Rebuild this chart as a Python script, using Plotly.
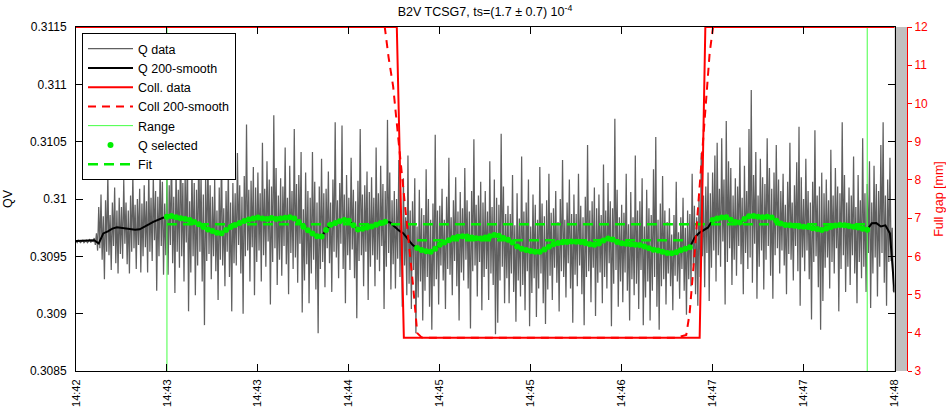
import plotly.graph_objects as go

# ---------------------------------------------------------------- data
# time axis: seconds after 14:42:00
tick_seconds = [0, 40, 80, 120, 160, 200, 240, 280, 320, 360]
tick_labels = ["14:42", "14:43", "14:43", "14:44", "14:45",
               "14:45", "14:46", "14:47", "14:47", "14:48"]

qv_tickvals = [0.3085, 0.309, 0.3095, 0.31, 0.3105, 0.311, 0.3115]
qv_ticktext = ["0.3085", "0.309", "0.3095", "0.31", "0.3105", "0.311", "0.3115"]

# raw tune measurement, one sample every 0.5 s (t = 0 .. 360 s), 10 s per row
q_data = [
    0.30963, 0.30962, 0.30964, 0.30963, 0.30962, 0.30963, 0.30964, 0.30962, 0.30963, 0.30964,
    0.30962, 0.30963, 0.30965, 0.30962, 0.30964, 0.30963, 0.30966, 0.30960, 0.30970, 0.30955,
    0.30993, 0.30957, 0.31004, 0.30947, 0.30985, 0.30930, 0.30999, 0.30954, 0.31022, 0.30951,
    0.30986, 0.30938, 0.30997, 0.30959, 0.31010, 0.30944, 0.30990, 0.30935, 0.31001, 0.30952,
    0.30993, 0.30948, 0.31017, 0.30961, 0.30997, 0.30943, 0.30990, 0.30935, 0.31003, 0.30954,
    0.31022, 0.30957, 0.30995, 0.30939, 0.31000, 0.30960, 0.31009, 0.30936, 0.30996, 0.30950,
    0.31012, 0.30958, 0.30998, 0.30936, 0.31025, 0.30954, 0.31001, 0.30946, 0.31020, 0.30964,
    0.31007, 0.30920, 0.31002, 0.30950, 0.31028, 0.30959, 0.31015, 0.30934, 0.30996, 0.30951,
    0.31019, 0.30934, 0.31012, 0.30960, 0.31046, 0.30944, 0.31002, 0.30918, 0.31030, 0.30954,
    0.31008, 0.30940, 0.31062, 0.30950, 0.31014, 0.30928, 0.31022, 0.30962, 0.31042, 0.30902,
    0.30998, 0.30936, 0.31030, 0.30950, 0.31014, 0.30916, 0.31008, 0.30942, 0.31048, 0.30954,
    0.31022, 0.30928, 0.31004, 0.30890, 0.31018, 0.30946, 0.31042, 0.30952, 0.31012, 0.30930,
    0.31002, 0.30950, 0.31017, 0.30937, 0.30990, 0.30912, 0.31010, 0.30947, 0.31044, 0.30942,
    0.30992, 0.30924, 0.31007, 0.30954, 0.31027, 0.30932, 0.30997, 0.30902, 0.31014, 0.30944,
    0.31005, 0.30942, 0.31040, 0.30960, 0.31012, 0.30935, 0.31002, 0.30900, 0.31020, 0.30950,
    0.31065, 0.30955, 0.31008, 0.30928, 0.31016, 0.30958, 0.31028, 0.30916, 0.31010, 0.30945,
    0.31023, 0.30955, 0.31005, 0.30928, 0.31049, 0.30951, 0.31009, 0.30941, 0.31033, 0.30963,
    0.31017, 0.30908, 0.31011, 0.30945, 0.31073, 0.30957, 0.31027, 0.30925, 0.31003, 0.30947,
    0.31018, 0.30933, 0.31011, 0.30959, 0.31045, 0.30943, 0.31001, 0.30917, 0.31029, 0.30953,
    0.31007, 0.30939, 0.31061, 0.30949, 0.31013, 0.30927, 0.31021, 0.30961, 0.31041, 0.30901,
    0.30991, 0.30929, 0.31023, 0.30943, 0.31007, 0.30909, 0.31001, 0.30935, 0.31041, 0.30947,
    0.31015, 0.30921, 0.30997, 0.30883, 0.31011, 0.30939, 0.31035, 0.30945, 0.31005, 0.30923,
    0.31009, 0.30957, 0.31024, 0.30944, 0.30997, 0.30919, 0.31017, 0.30954, 0.31067, 0.30949,
    0.30999, 0.30931, 0.31014, 0.30961, 0.31064, 0.30939, 0.31004, 0.30909, 0.31021, 0.30951,
    0.31001, 0.30938, 0.31036, 0.30956, 0.31008, 0.30931, 0.30998, 0.30896, 0.31016, 0.30946,
    0.31061, 0.30951, 0.31004, 0.30924, 0.31012, 0.30954, 0.31024, 0.30912, 0.31006, 0.30941,
    0.31019, 0.30951, 0.31001, 0.30924, 0.31045, 0.30947, 0.31005, 0.30937, 0.31029, 0.30959,
    0.31013, 0.30904, 0.31007, 0.30941, 0.31069, 0.30953, 0.31023, 0.30921, 0.30999, 0.30943,
    0.31007, 0.30922, 0.31000, 0.30948, 0.31034, 0.30932, 0.30990, 0.30906, 0.31018, 0.30942,
    0.30984, 0.30916, 0.31038, 0.30926, 0.30990, 0.30904, 0.30998, 0.30938, 0.31018, 0.30883,
    0.30976, 0.30914, 0.31008, 0.30928, 0.30992, 0.30894, 0.30986, 0.30920, 0.31026, 0.30932,
    0.31000, 0.30906, 0.30982, 0.30886, 0.30996, 0.30924, 0.31056, 0.30930, 0.30990, 0.30908,
    0.30994, 0.30942, 0.31009, 0.30929, 0.30982, 0.30904, 0.31002, 0.30939, 0.31036, 0.30934,
    0.30984, 0.30916, 0.30999, 0.30946, 0.31019, 0.30924, 0.30989, 0.30894, 0.31006, 0.30936,
    0.30992, 0.30929, 0.31027, 0.30947, 0.30999, 0.30922, 0.30989, 0.30887, 0.31007, 0.30937,
    0.31052, 0.30942, 0.30995, 0.30915, 0.31003, 0.30945, 0.31015, 0.30903, 0.30997, 0.30932,
    0.31007, 0.30939, 0.30989, 0.30912, 0.31033, 0.30935, 0.30993, 0.30925, 0.31017, 0.30882,
    0.31001, 0.30892, 0.30995, 0.30929, 0.31057, 0.30941, 0.31011, 0.30909, 0.30987, 0.30931,
    0.30994, 0.30909, 0.30987, 0.30935, 0.31021, 0.30919, 0.30977, 0.30893, 0.31005, 0.30929,
    0.30983, 0.30915, 0.31037, 0.30925, 0.30989, 0.30903, 0.30997, 0.30937, 0.31017, 0.30889,
    0.30976, 0.30918, 0.31004, 0.30931, 0.30995, 0.30897, 0.30982, 0.30922, 0.31028, 0.30935,
    0.30996, 0.30909, 0.30985, 0.30891, 0.30999, 0.30921, 0.31022, 0.30933, 0.30988, 0.30912,
    0.30992, 0.30940, 0.31007, 0.30927, 0.30980, 0.30902, 0.31000, 0.30937, 0.31034, 0.30932,
    0.30982, 0.30914, 0.30997, 0.30944, 0.31017, 0.30922, 0.30987, 0.30892, 0.31004, 0.30934,
    0.30987, 0.30924, 0.31022, 0.30942, 0.30994, 0.30917, 0.30984, 0.30890, 0.31002, 0.30932,
    0.31047, 0.30937, 0.30990, 0.30910, 0.30998, 0.30940, 0.31010, 0.30898, 0.30992, 0.30927,
    0.31004, 0.30936, 0.30986, 0.30909, 0.31030, 0.30932, 0.30990, 0.30922, 0.31014, 0.30944,
    0.30998, 0.30889, 0.30992, 0.30926, 0.31070, 0.30938, 0.31008, 0.30906, 0.30984, 0.30928,
    0.30995, 0.30910, 0.30988, 0.30936, 0.31022, 0.30920, 0.30978, 0.30894, 0.31006, 0.30930,
    0.30984, 0.30916, 0.31038, 0.30926, 0.30990, 0.30904, 0.30998, 0.30938, 0.31018, 0.30890,
    0.30976, 0.30914, 0.31008, 0.30928, 0.30992, 0.30894, 0.30986, 0.30920, 0.31026, 0.30932,
    0.31054, 0.30906, 0.30982, 0.30886, 0.30996, 0.30924, 0.31020, 0.30930, 0.30990, 0.30908,
    0.30980, 0.30935, 0.30992, 0.30924, 0.30969, 0.30903, 0.30986, 0.30933, 0.31015, 0.30928,
    0.30971, 0.30913, 0.30984, 0.30939, 0.31001, 0.30920, 0.30975, 0.30899, 0.30990, 0.30930,
    0.30987, 0.30924, 0.31022, 0.30942, 0.30994, 0.30917, 0.30984, 0.30907, 0.31002, 0.30932,
    0.31040, 0.30950, 0.31003, 0.30923, 0.31011, 0.30953, 0.31023, 0.30911, 0.31005, 0.30940,
    0.31023, 0.30955, 0.31038, 0.30928, 0.31049, 0.30951, 0.31009, 0.30941, 0.31053, 0.30963,
    0.31017, 0.30908, 0.31068, 0.30945, 0.31033, 0.30957, 0.31027, 0.30925, 0.31003, 0.30947,
    0.31018, 0.30933, 0.31011, 0.30959, 0.31045, 0.30943, 0.31001, 0.30917, 0.31029, 0.30953,
    0.31007, 0.30939, 0.31061, 0.30949, 0.31095, 0.30927, 0.31021, 0.30961, 0.31041, 0.30913,
    0.31003, 0.30941, 0.31035, 0.30955, 0.31019, 0.30921, 0.31013, 0.30947, 0.31053, 0.30959,
    0.31027, 0.30933, 0.31009, 0.30913, 0.31023, 0.30951, 0.31047, 0.30957, 0.31017, 0.30935,
    0.31007, 0.30955, 0.31022, 0.30942, 0.30995, 0.30917, 0.31015, 0.30952, 0.31049, 0.30947,
    0.30997, 0.30929, 0.31012, 0.30959, 0.31032, 0.30937, 0.31063, 0.30907, 0.31019, 0.30949,
    0.31000, 0.30937, 0.31035, 0.30955, 0.31007, 0.30930, 0.30997, 0.30895, 0.31015, 0.30945,
    0.31060, 0.30950, 0.31003, 0.30923, 0.31011, 0.30886, 0.31023, 0.30911, 0.31005, 0.30940,
    0.31017, 0.30949, 0.30999, 0.30922, 0.31043, 0.30945, 0.31003, 0.30935, 0.31027, 0.30957,
    0.31011, 0.30902, 0.31005, 0.30939, 0.31067, 0.30951, 0.31021, 0.30919, 0.30997, 0.30941,
    0.31010, 0.30925, 0.31003, 0.30951, 0.31037, 0.30935, 0.30993, 0.30909, 0.31021, 0.30945,
    0.30999, 0.30931, 0.31053, 0.30941, 0.31005, 0.30919, 0.31013, 0.30953, 0.31033, 0.30905,
    0.30997, 0.30935, 0.31029, 0.30949, 0.31013, 0.30915, 0.31007, 0.30941, 0.31047, 0.30953,
    0.31067, 0.30927, 0.31003, 0.30907, 0.31017, 0.30945, 0.31036, 0.30946, 0.30975, 0.30920,
    0.30918,
]
q_time = [0.5 * i for i in range(len(q_data))]

# 200-sample running mean of the tune, one value every 2 s (t = 0 .. 360 s)
q_smooth = [
    0.309634, 0.309636, 0.309638, 0.309642, 0.309640, 0.309612, 0.309700, 0.309718, 0.309742, 0.309753,
    0.309748, 0.309744, 0.309738, 0.309732, 0.309736, 0.309760, 0.309778, 0.309800, 0.309820, 0.309834,
    0.309846, 0.309852, 0.309840, 0.309832, 0.309826, 0.309817, 0.309800, 0.309780, 0.309756, 0.309735,
    0.309722, 0.309706, 0.309702, 0.309730, 0.309756, 0.309774, 0.309790, 0.309808, 0.309822, 0.309830,
    0.309838, 0.309830, 0.309826, 0.309834, 0.309826, 0.309830, 0.309836, 0.309840, 0.309830, 0.309800,
    0.309758, 0.309728, 0.309700, 0.309676, 0.309672, 0.309730, 0.309776, 0.309790, 0.309806, 0.309817,
    0.309810, 0.309770, 0.309735, 0.309740, 0.309752, 0.309760, 0.309776, 0.309790, 0.309802, 0.309798,
    0.309760, 0.309726, 0.309700, 0.309650, 0.309600, 0.309572, 0.309556, 0.309544, 0.309540, 0.309566,
    0.309600, 0.309620, 0.309640, 0.309660, 0.309671, 0.309676, 0.309672, 0.309664, 0.309658, 0.309656,
    0.309664, 0.309676, 0.309686, 0.309680, 0.309660, 0.309644, 0.309620, 0.309586, 0.309566, 0.309556,
    0.309546, 0.309540, 0.309540, 0.309560, 0.309584, 0.309606, 0.309616, 0.309622, 0.309626, 0.309630,
    0.309628, 0.309626, 0.309616, 0.309606, 0.309600, 0.309612, 0.309638, 0.309656, 0.309646, 0.309626,
    0.309614, 0.309610, 0.309606, 0.309600, 0.309598, 0.309586, 0.309570, 0.309558, 0.309550, 0.309540,
    0.309530, 0.309526, 0.309536, 0.309554, 0.309566, 0.309580, 0.309660, 0.309703, 0.309730, 0.309752,
    0.309817, 0.309830, 0.309838, 0.309840, 0.309820, 0.309800, 0.309795, 0.309826, 0.309850, 0.309852,
    0.309846, 0.309840, 0.309846, 0.309838, 0.309810, 0.309786, 0.309773, 0.309770, 0.309766, 0.309760,
    0.309758, 0.309756, 0.309746, 0.309738, 0.309730, 0.309742, 0.309756, 0.309768, 0.309773, 0.309770,
    0.309764, 0.309758, 0.309752, 0.309740, 0.309732, 0.309788, 0.309790, 0.309760, 0.309770, 0.309700,
    0.309190,
]
q_smooth_time = list(range(0, 2 * len(q_smooth), 2))

# collimator full gap [mm]
coll_time = [0, 141.1, 144.2, 274.3, 276.8, 360]
coll_gap = [12, 12, 3.87, 3.87, 12, 12]

coll_smooth_time = [0, 135.8, 137.5, 139.5, 142.4, 145.4, 148.3, 150.1, 152, 156,
                    264, 268.4, 269.9, 272.1, 274.3, 276.5, 278.7, 280.2, 360]
coll_smooth_gap = [12, 12, 11.2, 10.44, 8.70, 6.95, 5.21, 3.99, 3.88, 3.87,
                   3.87, 3.94, 4.52, 6.09, 7.81, 9.57, 11.32, 12, 12]

# analysis window and the windows of smoothed tune used in the fit
range_time = [40, 348]
selected_windows = [(40, 136), (150, 270), (280, 348)]

# fitted tune levels: collimator open / collimator closed
fit_open_level = 0.30978
fit_closed_level = 0.30964
fit_closed_time = [150, 268]

QV_RANGE = [0.3085, 0.3115]
GAP_RANGE = [3, 12]

# ---------------------------------------------------------------- figure
FONT = "Liberation Sans"
GREEN = "#00ee00"

sel_t, sel_q = [], []
for t, q in zip(q_smooth_time, q_smooth):
    if any(a <= t <= b for a, b in selected_windows):
        sel_t.append(t)
        sel_q.append(q)

range_x, range_y = [], []
for t in range_time:
    range_x += [t, t, None]
    range_y += [QV_RANGE[0], QV_RANGE[1], None]

fit_x = [range_time[0], range_time[1], None, fit_closed_time[0], fit_closed_time[1]]
fit_y = [fit_open_level, fit_open_level, None, fit_closed_level, fit_closed_level]

fig = go.Figure()
fig.add_trace(go.Scatter(x=q_time, y=q_data, mode="lines", name="Q data",
                         line=dict(color="#606060", width=1.25)))
fig.add_trace(go.Scatter(x=q_smooth_time, y=q_smooth, mode="lines", name="Q 200-smooth",
                         line=dict(color="black", width=2)))
fig.add_trace(go.Scatter(x=coll_time, y=coll_gap, mode="lines", name="Coll. data",
                         line=dict(color="#ff0000", width=2), yaxis="y2"))
fig.add_trace(go.Scatter(x=coll_smooth_time, y=coll_smooth_gap, mode="lines",
                         name="Coll 200-smooth",
                         line=dict(color="#ff0000", width=2, dash="8px,6px"), yaxis="y2"))
fig.add_trace(go.Scatter(x=range_x, y=range_y, mode="lines", name="Range",
                         line=dict(color="#44ff44", width=1)))
fig.add_trace(go.Scatter(x=sel_t, y=sel_q, mode="markers", name="Q selected",
                         marker=dict(color=GREEN, size=6)))
fig.add_trace(go.Scatter(x=fit_x, y=fit_y, mode="lines", name="Fit",
                         line=dict(color=GREEN, width=2.5, dash="10px,6px")))

W, H = 946, 408
ML, MR, MT, MB = 76, 39, 27, 37
plot_w = W - ML - MR
x_end = (894.5 - ML) / plot_w

fig.update_layout(
    width=W, height=H,
    margin=dict(l=ML, r=MR, t=MT, b=MB, autoexpand=False),
    paper_bgcolor="white", plot_bgcolor="white",
    font=dict(family=FONT, size=12, color="black"),
    title=dict(text="B2V TCSG7, ts=(1.7 ± 0.7) 10<sup>-4</sup>",
               x=(485 - ML) / plot_w, xref="paper", xanchor="center",
               y=1 - 12 / H, yref="container", yanchor="middle",
               font=dict(family=FONT, size=12.5, color="black")),
    showlegend=True,
    legend=dict(x=(82 - ML) / plot_w, y=1 - (33 - MT) / (H - MT - MB),
                xanchor="left", yanchor="top",
                bgcolor="white", bordercolor="black", borderwidth=1,
                font=dict(family=FONT, size=12.5), itemwidth=45,
                tracegroupgap=0),
    xaxis=dict(domain=[0, x_end], range=[0, 360],
               tickvals=tick_seconds, ticktext=tick_labels, tickangle=-90,
               ticks="inside", ticklen=7, tickcolor="black",
               showline=True, linecolor="black", linewidth=1, mirror="ticks",
               showgrid=False, zeroline=False, ticklabelstandoff=3,
               tickfont=dict(size=11)),
    yaxis=dict(range=QV_RANGE, tickvals=qv_tickvals, ticktext=qv_ticktext,
               ticks="inside", ticklen=7, tickcolor="black",
               showline=True, linecolor="black", linewidth=1, mirror="ticks",
               showgrid=False, zeroline=False, ticklabelstandoff=6,
               tickfont=dict(size=12),
               title=dict(text="QV", standoff=14, font=dict(size=12.5))),
    yaxis2=dict(range=GAP_RANGE, overlaying="y", side="right", anchor="free",
                position=1.0, dtick=1, tick0=3,
                ticks="outside", ticklen=4, tickcolor="#ff0000",
                showline=True, linecolor="#ff0000", linewidth=1,
                showgrid=False, zeroline=False,
                tickfont=dict(size=12, color="#ff0000"),
                title=dict(text="Full gap [mm]", standoff=8,
                           font=dict(size=12.5, color="#ff0000"))),
    shapes=[dict(type="rect", xref="paper", yref="paper",
                 x0=x_end, x1=1.0, y0=0, y1=1,
                 fillcolor="#c0c0c0", line=dict(width=0), layer="below")],
)

fig.write_html("out.html")
